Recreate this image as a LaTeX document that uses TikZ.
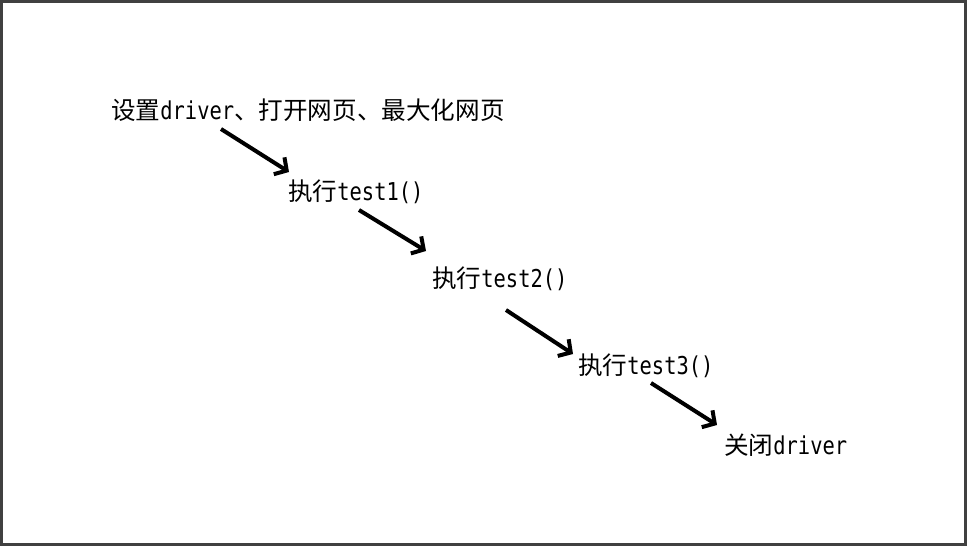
\documentclass[tikz,border=0pt]{standalone}
\usepackage{fontspec}
\setmainfont{DejaVu Sans Mono}[FakeStretch=0.83]
\newfontfamily\cjk{Noto Sans CJK SC}
\usetikzlibrary{arrows.meta}
\definecolor{framegray}{HTML}{404040}
\begin{document}
\begin{tikzpicture}[x=1pt,y=-1pt,
  lbl/.style={anchor=base west,inner sep=0pt,font=\fontsize{24.6}{26}\selectfont},
  flow/.style={line width=4pt,-{Straight Barb[length=9pt,width=20pt]}}]
\useasboundingbox (0,0) rectangle (967,546);
\fill[white] (0,0) rectangle (967,546);
\draw[framegray,line width=3pt] (1.5,1.5) rectangle (965.5,544.5);

\node[lbl] (n1) at (111,119) {{\cjk 设置}driver{\cjk 、打开网页、最大化网页}};
\node[lbl] (n2) at (288,200) {{\cjk 执行}test1()};
\node[lbl] (n3) at (432,287) {{\cjk 执行}test2()};
\node[lbl] (n4) at (578,374) {{\cjk 执行}test3()};
\node[lbl] (n5) at (724,454) {{\cjk 关闭}driver};

\coordinate (a1s) at (221,129);
\coordinate (a1e) at (289,172);
\coordinate (a2s) at (359,210);
\coordinate (a2e) at (426,251);
\coordinate (a3s) at (506,310);
\coordinate (a3e) at (573,354);
\coordinate (a4s) at (651,383);
\coordinate (a4e) at (717,425);

\draw[flow] (a1s) -- (a1e);
\draw[flow] (a2s) -- (a2e);
\draw[flow] (a3s) -- (a3e);
\draw[flow] (a4s) -- (a4e);
\end{tikzpicture}
\end{document}
